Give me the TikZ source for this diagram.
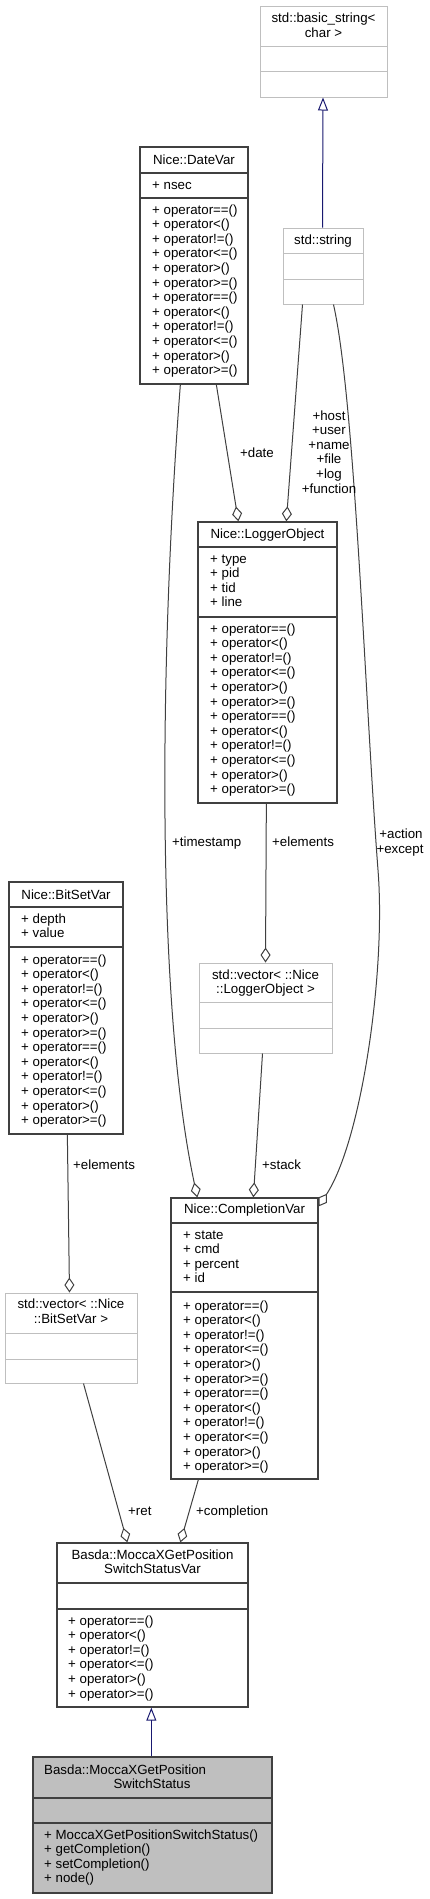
\documentclass[tikz,border=0pt]{standalone}
\usepackage{fontspec}
\setmainfont{Liberation Sans}
\usetikzlibrary{arrows.meta,fit}
\definecolor{edgegray}{HTML}{404040}
\definecolor{boxgray}{HTML}{BFBFBF}
\definecolor{inhblue}{HTML}{191970}
\newcommand\txtfont{\fontsize{13.3}{14.6}\selectfont}
\newcommand\umllines[4]{\foreach \mytext [count=\myi] in #4 {\node[txt, anchor=base west] (#1\myi) at (#2,{#3+14.6*(\myi-1)}) {\mytext};}}
\newcommand\opsTwelve{+ operator==(),+ operator<(),+ operator!=(),+ operator<=(),+ operator>(),+ operator>=(),+ operator==(),+ operator<(),+ operator!=(),+ operator<=(),+ operator>(),+ operator>=()}
\newcommand\opsSix{+ operator==(),+ operator<(),+ operator!=(),+ operator<=(),+ operator>(),+ operator>=()}
\newcommand\attrDate{+ nsec}
\newcommand\attrLog{+ type,+ pid,+ tid,+ line}
\newcommand\attrBit{+ depth,+ value}
\newcommand\attrComp{+ state,+ cmd,+ percent,+ id}
\newcommand\opsFinal{+ MoccaXGetPositionSwitchStatus(),+ getCompletion(),+ setCompletion(),+ node()}
\tikzset{
  txt/.style={font=\txtfont, inner sep=0pt, text=black},
  cls/.style={draw=edgegray, line width=1.3pt, inner sep=0pt},
  ucls/.style={draw=boxgray, line width=1pt, inner sep=0pt},
  clsline/.style={draw=edgegray, line width=1.3pt},
  uclsline/.style={draw=boxgray, line width=1pt},
  agg/.style={draw=edgegray, line width=1pt, -{Diamond[open, length=15pt, width=10pt]}},
  inh/.style={draw=inhblue, line width=1pt, -{Triangle[open, length=13pt, width=10pt]}}
}
\begin{document}
\begin{tikzpicture}[x=1pt, y=-1pt]
\fill[white] (0,0) rectangle (430,1899);
\useasboundingbox (0,0) rectangle (430,1899);

% std::basic_string<char>
\node[ucls, fit={(260,6) (387,97)}] (bs) {};
\draw[uclsline] (260,46) -- (387,46);
\draw[uclsline] (260,71) -- (387,71);
\node[txt, anchor=base] (bs-t1) at (323.5,22) {std::basic\_string<};
\node[txt, anchor=base] (bs-t2) at (323.5,37) {char >};

% std::string
\node[ucls, fit={(283,228) (363,304)}] (str) {};
\draw[uclsline] (283,253) -- (363,253);
\draw[uclsline] (283,279) -- (363,279);
\node[txt, anchor=base] (str-t) at (323,244) {std::string};

% Nice::DateVar
\node[cls, fit={(140,147) (248,384)}] (dv) {};
\draw[clsline] (140,173) -- (248,173);
\draw[clsline] (140,198) -- (248,198);
\node[txt, anchor=base] (dv-t) at (194,164) {Nice::DateVar};
\umllines{dva}{152}{189}{\attrDate}
\umllines{dvo}{152}{214}{\opsTwelve}

% Nice::LoggerObject
\node[cls, fit={(198,522) (337,803)}] (lo) {};
\draw[clsline] (198,547) -- (337,547);
\draw[clsline] (198,617) -- (337,617);
\node[txt, anchor=base] (lo-t) at (267.5,538) {Nice::LoggerObject};
\umllines{loa}{210}{563}{\attrLog}
\umllines{loo}{210}{633}{\opsTwelve}

% std::vector< ::Nice::LoggerObject >
\node[ucls, fit={(199,963) (332,1053)}] (vlo) {};
\draw[uclsline] (199,1002) -- (332,1002);
\draw[uclsline] (199,1028) -- (332,1028);
\node[txt, anchor=base] (vlo-t1) at (265.5,979) {std::vector< ::Nice};
\node[txt, anchor=base] (vlo-t2) at (265.5,993.6) {::LoggerObject >};

% Nice::BitSetVar
\node[cls, fit={(9,882) (123,1134)}] (bsv) {};
\draw[clsline] (9,907) -- (123,907);
\draw[clsline] (9,947) -- (123,947);
\node[txt, anchor=base] (bsv-t) at (66,899) {Nice::BitSetVar};
\umllines{bsva}{21}{923}{\attrBit}
\umllines{bsvo}{21}{964}{\opsTwelve}

% std::vector< ::Nice::BitSetVar >
\node[ucls, fit={(5,1293) (137,1383)}] (vbs) {};
\draw[uclsline] (5,1333) -- (137,1333);
\draw[uclsline] (5,1359) -- (137,1359);
\node[txt, anchor=base] (vbs-t1) at (71,1308) {std::vector< ::Nice};
\node[txt, anchor=base] (vbs-t2) at (71,1323) {::BitSetVar >};

% Nice::CompletionVar
\node[cls, fit={(171,1198) (318,1479)}] (cv) {};
\draw[clsline] (171,1223) -- (318,1223);
\draw[clsline] (171,1292) -- (318,1292);
\node[txt, anchor=base] (cv-t) at (244.5,1213) {Nice::CompletionVar};
\umllines{cva}{183}{1239}{\attrComp}
\umllines{cvo}{183}{1310}{\opsTwelve}

% Basda::MoccaXGetPositionSwitchStatusVar
\node[cls, fit={(57,1543) (248,1707)}] (var) {};
\draw[clsline] (57,1583) -- (248,1583);
\draw[clsline] (57,1609) -- (248,1609);
\node[txt, anchor=base] (var-t1) at (152.5,1559) {Basda::MoccaXGetPosition};
\node[txt, anchor=base] (var-t2) at (152.5,1573.6) {SwitchStatusVar};
\umllines{varo}{68}{1625}{\opsSix}

% Basda::MoccaXGetPositionSwitchStatus
\node[cls, fill=boxgray, fit={(33,1757) (272,1893)}] (fin) {};
\draw[clsline] (33,1798) -- (272,1798);
\draw[clsline] (33,1823) -- (272,1823);
\node[txt, anchor=base west] (fin-t1) at (44,1774) {Basda::MoccaXGetPosition};
\node[txt, anchor=base] (fin-t2) at (152,1788.6) {SwitchStatus};
\umllines{fino}{44}{1839}{\opsFinal}

% inheritance
\draw[inh] ([xshift=40pt]str.north west) -- ([xshift=63.5pt]bs.south west);
\draw[inh] ([xshift=119pt]fin.north west) -- ([xshift=95pt]var.south west);

% aggregations
\draw[agg] ([xshift=77pt]dv.south west) -- ([xshift=41pt]lo.north west);
\draw[agg] ([xshift=20pt]str.south west) -- ([xshift=89pt]lo.north west);
\draw[agg] ([xshift=41pt]dv.south west) .. controls (160,650) and (155,1000) .. ([xshift=27pt]cv.north west);
\draw[agg] ([xshift=51pt]str.south west) .. controls (355,400) and (365,700) .. (378,870) .. controls (386,970) and (362,1140) .. ([yshift=-9pt]cv.north east);
\draw[agg] ([xshift=69pt]lo.south west) -- ([xshift=67pt]vlo.north west);
\draw[agg] ([xshift=64pt]vlo.south west) -- ([xshift=83pt]cv.north west);
\draw[agg] ([xshift=59pt]bsv.south west) -- ([xshift=65pt]vbs.north west);
\draw[agg] ([xshift=79pt]vbs.south west) -- ([xshift=71pt]var.north west);
\draw[agg] ([xshift=28pt]cv.south west) -- ([xshift=124pt]var.north west);

% edge labels
\node[txt, anchor=base] (l-date) at (257,457) {+date};
\foreach \mytext [count=\myi] in {+host,+user,+name,+file,+log,+function} {\node[txt, anchor=base] (l-host\myi) at (329,{420+14.6*(\myi-1)}) {\mytext};}
\node[txt, anchor=base west] (l-ts) at (172,846) {+timestamp};
\node[txt, anchor=base west] (l-loel) at (272,846) {+elements};
\node[txt, anchor=base] (l-act) at (401,838) {+action};
\node[txt, anchor=base] (l-exc) at (400,853) {+except};
\node[txt, anchor=base west] (l-bsel) at (73,1169) {+elements};
\node[txt, anchor=base west] (l-stack) at (262,1169) {+stack};
\node[txt, anchor=base west] (l-ret) at (128,1515) {+ret};
\node[txt, anchor=base west] (l-comp) at (196,1515) {+completion};
\end{tikzpicture}
\end{document}
